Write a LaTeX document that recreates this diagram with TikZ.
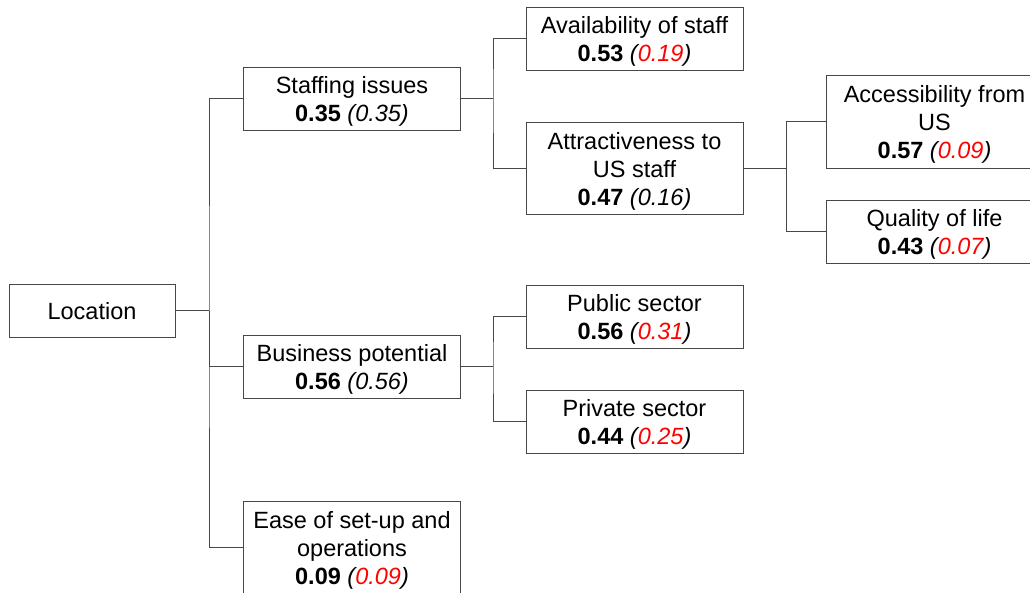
\documentclass[tikz,border=0pt]{standalone}
\usepackage{fontspec}
\setmainfont{Liberation Sans}
\begin{document}
\begin{tikzpicture}[x=1pt,y=-1pt,
  box/.style={draw=black!72, line width=1pt, fill=white, inner sep=0pt,
    minimum width=217pt, minimum height=63pt},
  txt/.style={align=center, inner sep=0pt, yshift=-3pt, font=\fontsize{23.5}{28}\selectfont},
  link/.style={draw=black!72, line width=1pt}]
\clip (0,0) rectangle (1030,592);
\fill[white] (0,0) rectangle (1030,592);
\node[box, minimum width=166pt, minimum height=53pt] (loc) at (92,310.5) {};
\node[txt, yshift=2pt] (locT) at (loc) {Location};
\node[box] (staff) at (352,98.5) {};
\node[txt] (staffT) at (staff) {Staffing issues\\\textbf{0.35} \textit{(0.35)}};
\node[box] (avail) at (634.5,38.5) {};
\node[txt] (availT) at (avail) {Availability of staff\\\textbf{0.53} \textit{(\textcolor{red}{0.19})}};
\node[box, minimum height=92pt] (attr) at (634.5,168) {};
\node[txt] (attrT) at (attr) {Attractiveness to\\US staff\\\textbf{0.47} \textit{(0.16)}};
\node[box, minimum height=93pt] (access) at (934.5,121.5) {};
\node[txt] (accessT) at (access) {Accessibility from\\US\\\textbf{0.57} \textit{(\textcolor{red}{0.09})}};
\node[box] (qol) at (934.5,231.5) {};
\node[txt] (qolT) at (qol) {Quality of life\\\textbf{0.43} \textit{(\textcolor{red}{0.07})}};
\node[box] (bus) at (352,366.5) {};
\node[txt] (busT) at (bus) {Business potential\\\textbf{0.56} \textit{(0.56)}};
\node[box] (pub) at (634.5,316.5) {};
\node[txt] (pubT) at (pub) {Public sector\\\textbf{0.56} \textit{(\textcolor{red}{0.31})}};
\node[box] (priv) at (634.5,421.5) {};
\node[txt] (privT) at (priv) {Private sector\\\textbf{0.44} \textit{(\textcolor{red}{0.25})}};
\node[box, minimum height=92pt] (ease) at (352,547) {};
\node[txt] (easeT) at (ease) {Ease of set-up and\\operations\\\textbf{0.09} \textit{(\textcolor{red}{0.09})}};
\coordinate (j1) at (209,310.5);
\coordinate (j2) at (493,98.5);
\coordinate (j3) at (786,168);
\coordinate (j4) at (493,366.5);
\draw[link] (loc.east) -- (j1);
\draw[link] (staff.west) -| (j1) |- (ease.west);
\draw[link] (j1) |- (bus.west);
\draw[link] (staff.east) -- (j2);
\draw[link] (avail.west) -| (j2) |- (attr.west);
\draw[link] (attr.east) -- (j3);
\draw[link] (access.west) -| (j3) |- (qol.west);
\draw[link] (bus.east) -- (j4);
\draw[link] (pub.west) -| (j4) |- (priv.west);
\end{tikzpicture}
\end{document}
